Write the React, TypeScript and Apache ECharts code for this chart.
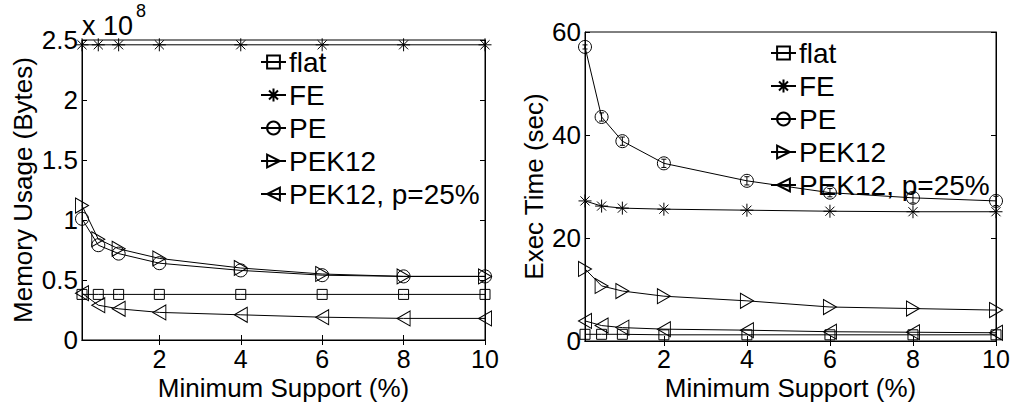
import React, { useEffect, useRef } from "react";
import * as echarts from "echarts";

const minSupport = [0.1, 0.5, 1, 2, 4, 6, 8, 10];
const xTickValues = [2, 4, 6, 8, 10];
const seriesNames = ["flat", "FE", "PE", "PEK12", "PEK12, p=25%"];
const xTitle = "Minimum Support (%)";

// Memory usage, in units of 1e8 bytes
const memFlat = [0.38, 0.38, 0.38, 0.38, 0.38, 0.38, 0.38, 0.38];
const memFE = [2.46, 2.46, 2.46, 2.46, 2.46, 2.46, 2.46, 2.46];
const memPE = [1.01, 0.79, 0.72, 0.64, 0.58, 0.54, 0.53, 0.53];
const memPEK12 = [1.12, 0.84, 0.76, 0.68, 0.6, 0.55, 0.53, 0.53];
const memPEK12p25 = [0.39, 0.29, 0.26, 0.23, 0.21, 0.19, 0.18, 0.18];
const memTicks = [0, 0.5, 1, 1.5, 2, 2.5];

// Execution time, seconds
const timeFlat = [1.3, 1.3, 1.3, 1.2, 1.2, 1.2, 1.2, 1.2];
const timeFE = [27.2, 26.2, 25.8, 25.6, 25.4, 25.2, 25.1, 25.1];
const timePE = [57.1, 43.5, 38.8, 34.5, 31.1, 28.8, 27.8, 27.2];
const timePEErr = [0.4, 0.8, 0.8, 0.8, 0.8, 0.8, 1.0, 0.9];
const timePEK12 = [14.0, 10.7, 9.7, 8.7, 7.8, 6.6, 6.3, 6.0];
const timePEK12p25 = [3.9, 3.0, 2.6, 2.3, 2.1, 1.8, 1.7, 1.6];
const timeTicks = [0, 20, 40, 60];

const FONT = "'Liberation Sans', Arial, sans-serif";
const XTICK_FS = 25;
const YTICK_FS = 26;
const NAME_FS = 26;
const LEGEND_FS = 28;

const symbols: Record<string, { symbol: string; size: number | number[] }> = {
  flat: { symbol: "rect", size: 10 },
  FE: { symbol: "path://M5,0L5,10M0,5L10,5M1.5,1.5L8.5,8.5M1.5,8.5L8.5,1.5", size: 13 },
  PE: { symbol: "circle", size: 13 },
  PEK12: { symbol: "path://M0,0L10,5L0,10Z", size: [13, 15] },
  "PEK12, p=25%": { symbol: "path://M10,0L0,5L10,10Z", size: [13, 15] },
};

function lineSeries(name: string, values: number[], axisIndex: number) {
  return {
    type: "line",
    name,
    xAxisIndex: axisIndex,
    yAxisIndex: axisIndex,
    data: minSupport.map((x, i) => [x, values[i]]),
    symbol: symbols[name].symbol,
    symbolSize: symbols[name].size,
    showAllSymbol: true,
    clip: false,
    lineStyle: { color: "#000", width: 1 },
    itemStyle: { color: "rgba(255,255,255,0)", borderColor: "#000", borderWidth: 1 },
    emphasis: { disabled: true },
  };
}

function errorSeries(values: number[], errs: number[], axisIndex: number) {
  return {
    type: "custom",
    xAxisIndex: axisIndex,
    yAxisIndex: axisIndex,
    clip: false,
    data: minSupport.map((x, i) => [x, values[i] - errs[i], values[i] + errs[i]]),
    encode: { x: 0, y: [1, 2] },
    renderItem: (_params: any, api: any) => {
      const x = api.value(0);
      const lo = api.coord([x, api.value(1)]);
      const hi = api.coord([x, api.value(2)]);
      const w = 2.5;
      const style = { stroke: "#000", lineWidth: 1 };
      return {
        type: "group",
        children: [
          { type: "line", shape: { x1: lo[0], y1: lo[1], x2: hi[0], y2: hi[1] }, style },
          { type: "line", shape: { x1: lo[0] - w, y1: lo[1], x2: lo[0] + w, y2: lo[1] }, style },
          { type: "line", shape: { x1: hi[0] - w, y1: hi[1], x2: hi[0] + w, y2: hi[1] }, style },
        ],
      };
    },
  };
}

function xAxes(gridIndex: number, labelMargin: number) {
  const common = {
    type: "value",
    gridIndex,
    min: 0.1,
    max: 10,
    splitLine: { show: false },
    axisLine: { show: true, lineStyle: { color: "#000", width: 1 } },
    axisTick: { show: true, inside: true, length: 5, customValues: xTickValues, lineStyle: { color: "#000" } },
  };
  return [
    {
      ...common,
      position: "bottom",
      axisLabel: {
        show: true,
        customValues: xTickValues,
        fontSize: XTICK_FS,
        lineHeight: 20,
        fontFamily: FONT,
        color: "#000",
        margin: labelMargin,
      },
    },
    { ...common, position: "top", axisLabel: { show: false } },
  ];
}

function yAxes(gridIndex: number, max: number, interval: number, name: string, nameGap: number, fmt: (v: number) => string) {
  const common = {
    type: "value",
    gridIndex,
    min: 0,
    max,
    interval,
    splitLine: { show: false },
    axisLine: { show: true, lineStyle: { color: "#000", width: 1 } },
    axisTick: { show: true, inside: true, length: 5, lineStyle: { color: "#000" } },
  };
  return [
    {
      ...common,
      position: "left",
      name,
      nameLocation: "middle",
      nameGap,
      nameTextStyle: { fontSize: NAME_FS, fontFamily: FONT, color: "#000" },
      axisLabel: { show: true, fontSize: YTICK_FS, fontFamily: FONT, color: "#000", margin: 4, formatter: fmt },
    },
    { ...common, position: "right", axisLabel: { show: false } },
  ];
}

function legend(left: number, top: number) {
  return {
    orient: "vertical",
    left,
    top,
    padding: 0,
    itemGap: 5,
    itemWidth: 25,
    itemHeight: 16,
    selectedMode: false,
    data: seriesNames,
    textStyle: { fontSize: LEGEND_FS, lineHeight: 28, fontFamily: FONT, color: "#000", padding: [0, 0, 0, -2] },
  };
}

function titleText(x: number, y: number) {
  return {
    type: "text",
    x,
    y,
    style: {
      text: xTitle,
      fontSize: NAME_FS,
      lineHeight: 22,
      fontFamily: FONT,
      fill: "#000",
      align: "center",
      verticalAlign: "middle",
    },
  };
}

export default function App() {
  const ref = useRef<HTMLDivElement>(null);
  useEffect(() => {
    if (!ref.current) return;
    const chart = echarts.init(ref.current, undefined, { renderer: "svg" });
    const memLabels = memTicks.map((t) => String(t));
    const timeLabels = timeTicks.map((t) => String(t));
    chart.setOption({
      animation: false,
      backgroundColor: "#fff",
      grid: [
        { left: 82, top: 40, width: 403, height: 300, show: true, borderColor: "#000", borderWidth: 1, backgroundColor: "transparent", containLabel: false, outerBoundsMode: "none" },
        { left: 585, top: 32, width: 411, height: 309, show: true, borderColor: "#000", borderWidth: 1, backgroundColor: "transparent", containLabel: false, outerBoundsMode: "none" },
      ],
      xAxis: [...xAxes(0, 8.5), ...xAxes(1, 7.5)],
      yAxis: [
        ...yAxes(0, 2.5, 0.5, "Memory Usage (Bytes)", 46, (v) => memLabels[Math.round(v / 0.5)] ?? String(v)),
        ...yAxes(1, 60, 20, "Exec Time (sec)", 38, (v) => timeLabels[Math.round(v / 20)] ?? String(v)),
      ],
      legend: [legend(260, 48), legend(770, 39)],
      graphic: [
        { type: "text", x: 82, y: 26, style: { text: "x 10", fontSize: 27, fontFamily: FONT, fill: "#000", verticalAlign: "middle" } },
        { type: "text", x: 136, y: 11, style: { text: "8", fontSize: 18, fontFamily: FONT, fill: "#000", verticalAlign: "middle" } },
        titleText(283.5, 388),
        titleText(790.5, 388),
      ],
      series: [
        lineSeries("flat", memFlat, 0),
        lineSeries("FE", memFE, 0),
        lineSeries("PE", memPE, 0),
        lineSeries("PEK12", memPEK12, 0),
        lineSeries("PEK12, p=25%", memPEK12p25, 0),
        lineSeries("flat", timeFlat, 2),
        lineSeries("FE", timeFE, 2),
        lineSeries("PE", timePE, 2),
        lineSeries("PEK12", timePEK12, 2),
        lineSeries("PEK12, p=25%", timePEK12p25, 2),
        errorSeries(timePE, timePEErr, 2),
      ],
    });
    return () => chart.dispose();
  }, []);
  return <div ref={ref} style={{ width: 1013, height: 403, position: "absolute", left: 0, top: 0 }} />;
}
